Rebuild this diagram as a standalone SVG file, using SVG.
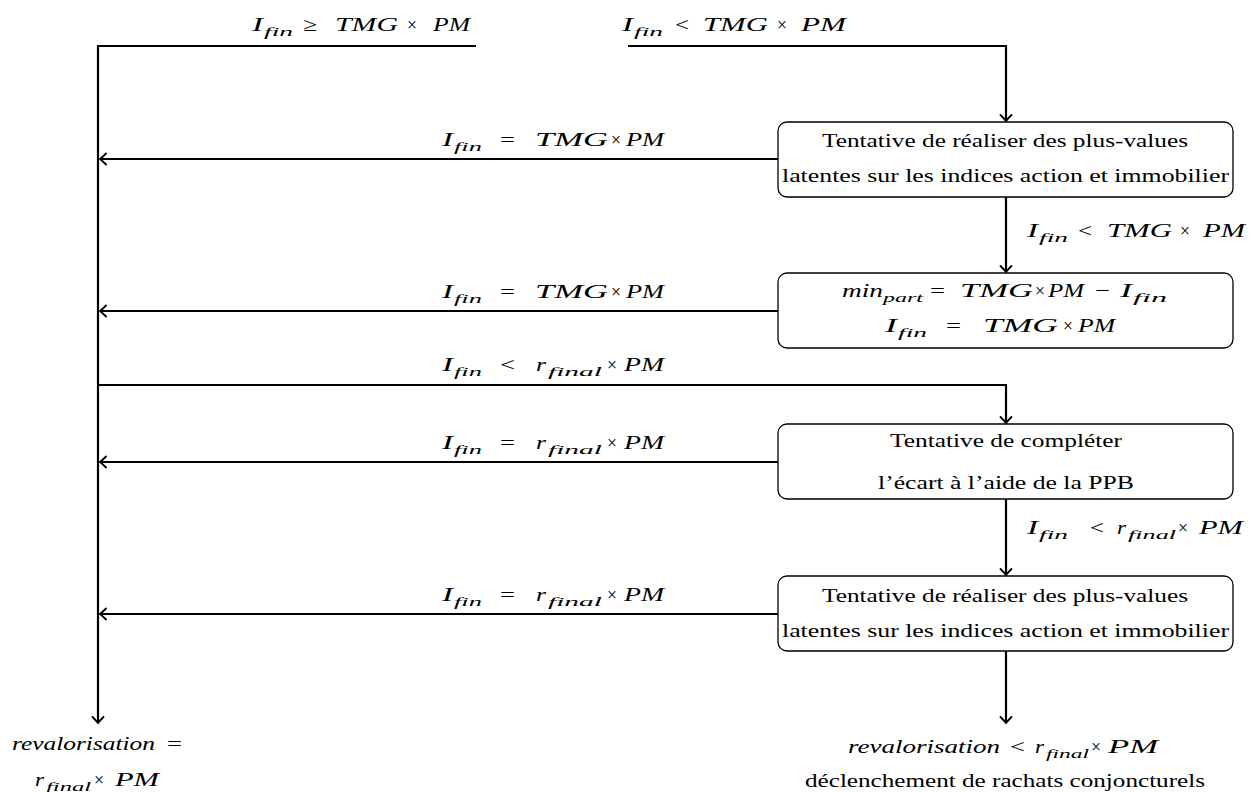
<svg xmlns="http://www.w3.org/2000/svg" width="1251" height="792" viewBox="0 0 1251 792">
  <style>
    text { font-family: "Liberation Serif", "Times New Roman", serif; font-size: 19px; fill: #000; }
    .c { text-anchor: middle; }
    .i { font-style: italic; }
    .s { font-style: italic; font-size: 13px; }
    .box { fill: #fff; stroke: #000; stroke-width: 1.3; }
    .wire { fill: none; stroke: #000; stroke-width: 2.2; }
  </style>
  <defs>
    <marker id="arrow" markerUnits="userSpaceOnUse" markerWidth="14" markerHeight="14" viewBox="-8 -7 10 14" refX="0" refY="0" orient="auto">
      <path d="M -6 -5.5 Q -2 -1.5 0 0 Q -2 1.5 -6 5.5" fill="none" stroke="#000" stroke-width="1.8" stroke-linecap="round"/>
    </marker>
  </defs>

  <rect width="1251" height="792" fill="#fff"/>

  <!-- connectors -->
  <g id="connectors">
    <path class="wire" d="M476,46 H98 V723" marker-end="url(#arrow)"/>
    <path class="wire" d="M628,46 H1006 V121" marker-end="url(#arrow)"/>
    <path class="wire" d="M1006,197 V272" marker-end="url(#arrow)"/>
    <path class="wire" d="M98,385 H1006 V423" marker-end="url(#arrow)"/>
    <path class="wire" d="M1006,499 V575" marker-end="url(#arrow)"/>
    <path class="wire" d="M1006,651 V723" marker-end="url(#arrow)"/>
    <path class="wire" d="M778,159 H100" marker-end="url(#arrow)"/>
    <path class="wire" d="M778,311 H100" marker-end="url(#arrow)"/>
    <path class="wire" d="M778,462 H100" marker-end="url(#arrow)"/>
    <path class="wire" d="M778,614 H100" marker-end="url(#arrow)"/>
  </g>

  <!-- connector labels -->
  <g id="labels">
    <!-- top-left branch -->
    <text y="31"><tspan class="i" x="252" textLength="11" lengthAdjust="spacingAndGlyphs">I</tspan><tspan class="s" x="264" y="36" textLength="29" lengthAdjust="spacingAndGlyphs">fin</tspan><tspan x="303" y="31" textLength="14" lengthAdjust="spacingAndGlyphs">≥</tspan><tspan class="i" x="335" textLength="63" lengthAdjust="spacingAndGlyphs">TMG</tspan><tspan x="407" textLength="10" lengthAdjust="spacingAndGlyphs">×</tspan><tspan class="i" x="433" textLength="37" lengthAdjust="spacingAndGlyphs">PM</tspan></text>
    <!-- top-right branch -->
    <text y="31"><tspan class="i" x="622" textLength="11" lengthAdjust="spacingAndGlyphs">I</tspan><tspan class="s" x="634" y="36" textLength="29" lengthAdjust="spacingAndGlyphs">fin</tspan><tspan x="675" y="31" textLength="14" lengthAdjust="spacingAndGlyphs">&lt;</tspan><tspan class="i" x="703" textLength="65" lengthAdjust="spacingAndGlyphs">TMG</tspan><tspan x="777" textLength="10" lengthAdjust="spacingAndGlyphs">×</tspan><tspan class="i" x="801" textLength="45" lengthAdjust="spacingAndGlyphs">PM</tspan></text>
    <!-- returns to the left spine -->
    <text y="146"><tspan class="i" x="442" textLength="11" lengthAdjust="spacingAndGlyphs">I</tspan><tspan class="s" x="454" y="151" textLength="28" lengthAdjust="spacingAndGlyphs">fin</tspan><tspan x="500" y="146" textLength="15" lengthAdjust="spacingAndGlyphs">=</tspan><tspan class="i" x="535" textLength="73" lengthAdjust="spacingAndGlyphs">TMG</tspan><tspan x="611" textLength="10" lengthAdjust="spacingAndGlyphs">×</tspan><tspan class="i" x="626" textLength="38" lengthAdjust="spacingAndGlyphs">PM</tspan></text>
    <text y="298"><tspan class="i" x="442" textLength="11" lengthAdjust="spacingAndGlyphs">I</tspan><tspan class="s" x="454" y="303" textLength="28" lengthAdjust="spacingAndGlyphs">fin</tspan><tspan x="500" y="298" textLength="15" lengthAdjust="spacingAndGlyphs">=</tspan><tspan class="i" x="535" textLength="73" lengthAdjust="spacingAndGlyphs">TMG</tspan><tspan x="611" textLength="10" lengthAdjust="spacingAndGlyphs">×</tspan><tspan class="i" x="626" textLength="38" lengthAdjust="spacingAndGlyphs">PM</tspan></text>
    <text y="371"><tspan class="i" x="442" textLength="11" lengthAdjust="spacingAndGlyphs">I</tspan><tspan class="s" x="454" y="376" textLength="28" lengthAdjust="spacingAndGlyphs">fin</tspan><tspan x="500" y="371" textLength="15" lengthAdjust="spacingAndGlyphs">&lt;</tspan><tspan class="i" x="536" textLength="10" lengthAdjust="spacingAndGlyphs">r</tspan><tspan class="s" x="548" y="376" textLength="54" lengthAdjust="spacingAndGlyphs">final</tspan><tspan x="607" y="371" textLength="10" lengthAdjust="spacingAndGlyphs">×</tspan><tspan class="i" x="624" textLength="40" lengthAdjust="spacingAndGlyphs">PM</tspan></text>
    <text y="449"><tspan class="i" x="442" textLength="11" lengthAdjust="spacingAndGlyphs">I</tspan><tspan class="s" x="454" y="454" textLength="28" lengthAdjust="spacingAndGlyphs">fin</tspan><tspan x="500" y="449" textLength="15" lengthAdjust="spacingAndGlyphs">=</tspan><tspan class="i" x="536" textLength="10" lengthAdjust="spacingAndGlyphs">r</tspan><tspan class="s" x="548" y="454" textLength="54" lengthAdjust="spacingAndGlyphs">final</tspan><tspan x="607" y="449" textLength="10" lengthAdjust="spacingAndGlyphs">×</tspan><tspan class="i" x="624" textLength="40" lengthAdjust="spacingAndGlyphs">PM</tspan></text>
    <text y="601"><tspan class="i" x="442" textLength="11" lengthAdjust="spacingAndGlyphs">I</tspan><tspan class="s" x="454" y="606" textLength="28" lengthAdjust="spacingAndGlyphs">fin</tspan><tspan x="500" y="601" textLength="15" lengthAdjust="spacingAndGlyphs">=</tspan><tspan class="i" x="536" textLength="10" lengthAdjust="spacingAndGlyphs">r</tspan><tspan class="s" x="548" y="606" textLength="54" lengthAdjust="spacingAndGlyphs">final</tspan><tspan x="607" y="601" textLength="10" lengthAdjust="spacingAndGlyphs">×</tspan><tspan class="i" x="624" textLength="40" lengthAdjust="spacingAndGlyphs">PM</tspan></text>
    <!-- downward steps on the right -->
    <text y="237"><tspan class="i" x="1027" textLength="11" lengthAdjust="spacingAndGlyphs">I</tspan><tspan class="s" x="1039" y="242" textLength="29" lengthAdjust="spacingAndGlyphs">fin</tspan><tspan x="1078" y="237" textLength="14" lengthAdjust="spacingAndGlyphs">&lt;</tspan><tspan class="i" x="1107" textLength="65" lengthAdjust="spacingAndGlyphs">TMG</tspan><tspan x="1180" textLength="10" lengthAdjust="spacingAndGlyphs">×</tspan><tspan class="i" x="1203" textLength="42" lengthAdjust="spacingAndGlyphs">PM</tspan></text>
    <text y="534"><tspan class="i" x="1027" textLength="11" lengthAdjust="spacingAndGlyphs">I</tspan><tspan class="s" x="1039" y="539" textLength="29" lengthAdjust="spacingAndGlyphs">fin</tspan><tspan x="1090" y="534" textLength="14" lengthAdjust="spacingAndGlyphs">&lt;</tspan><tspan class="i" x="1117" textLength="9" lengthAdjust="spacingAndGlyphs">r</tspan><tspan class="s" x="1128" y="539" textLength="48" lengthAdjust="spacingAndGlyphs">final</tspan><tspan x="1178" y="534" textLength="10" lengthAdjust="spacingAndGlyphs">×</tspan><tspan class="i" x="1199" textLength="44" lengthAdjust="spacingAndGlyphs">PM</tspan></text>
  </g>

  <!-- step boxes -->
  <g id="step1">
    <rect class="box" x="778" y="122" width="455" height="75" rx="9"/>
    <text class="c" x="1005" y="147" textLength="366" lengthAdjust="spacingAndGlyphs">Tentative de réaliser des plus-values</text>
    <text class="c" x="1005.5" y="182" textLength="447" lengthAdjust="spacingAndGlyphs">latentes sur les indices action et immobilier</text>
  </g>
  <g id="step2">
    <rect class="box" x="778" y="273" width="455" height="75" rx="9"/>
    <text y="297"><tspan class="i" x="842" textLength="41" lengthAdjust="spacingAndGlyphs">min</tspan><tspan class="s" x="883" y="302" textLength="40" lengthAdjust="spacingAndGlyphs">part</tspan><tspan x="930" y="297" textLength="15" lengthAdjust="spacingAndGlyphs">=</tspan><tspan class="i" x="960" textLength="73" lengthAdjust="spacingAndGlyphs">TMG</tspan><tspan x="1035" textLength="10" lengthAdjust="spacingAndGlyphs">×</tspan><tspan class="i" x="1048" textLength="36" lengthAdjust="spacingAndGlyphs">PM</tspan><tspan x="1095" textLength="15" lengthAdjust="spacingAndGlyphs">−</tspan><tspan class="i" x="1120" textLength="12" lengthAdjust="spacingAndGlyphs">I</tspan><tspan class="s" x="1133" y="302" textLength="34" lengthAdjust="spacingAndGlyphs">fin</tspan></text>
    <text y="332"><tspan class="i" x="885" textLength="12" lengthAdjust="spacingAndGlyphs">I</tspan><tspan class="s" x="898" y="337" textLength="29" lengthAdjust="spacingAndGlyphs">fin</tspan><tspan x="946" y="332" textLength="15" lengthAdjust="spacingAndGlyphs">=</tspan><tspan class="i" x="983" textLength="75" lengthAdjust="spacingAndGlyphs">TMG</tspan><tspan x="1063" textLength="10" lengthAdjust="spacingAndGlyphs">×</tspan><tspan class="i" x="1078" textLength="37" lengthAdjust="spacingAndGlyphs">PM</tspan></text>
  </g>
  <g id="step3">
    <rect class="box" x="778" y="424" width="455" height="75" rx="9"/>
    <text class="c" x="1006" y="447" textLength="232" lengthAdjust="spacingAndGlyphs">Tentative de compléter</text>
    <text class="c" x="1006" y="489" textLength="256" lengthAdjust="spacingAndGlyphs">l’écart à l’aide de la PPB</text>
  </g>
  <g id="step4">
    <rect class="box" x="778" y="576" width="455" height="75" rx="9"/>
    <text class="c" x="1005" y="602" textLength="366" lengthAdjust="spacingAndGlyphs">Tentative de réaliser des plus-values</text>
    <text class="c" x="1005.5" y="637" textLength="447" lengthAdjust="spacingAndGlyphs">latentes sur les indices action et immobilier</text>
  </g>

  <!-- outcomes -->
  <g id="outcome-left">
    <text y="750"><tspan class="i" x="12" textLength="143" lengthAdjust="spacingAndGlyphs">revalorisation</tspan><tspan x="167" textLength="15" lengthAdjust="spacingAndGlyphs">=</tspan></text>
    <text y="786"><tspan class="i" x="35" textLength="9" lengthAdjust="spacingAndGlyphs">r</tspan><tspan class="s" x="46" y="791" textLength="45" lengthAdjust="spacingAndGlyphs">final</tspan><tspan x="94" y="786" textLength="10" lengthAdjust="spacingAndGlyphs">×</tspan><tspan class="i" x="115" textLength="44" lengthAdjust="spacingAndGlyphs">PM</tspan></text>
  </g>
  <g id="outcome-right">
    <text y="753"><tspan class="i" x="848" textLength="152" lengthAdjust="spacingAndGlyphs">revalorisation</tspan><tspan x="1010" textLength="15" lengthAdjust="spacingAndGlyphs">&lt;</tspan><tspan class="i" x="1035" textLength="9" lengthAdjust="spacingAndGlyphs">r</tspan><tspan class="s" x="1046" y="758" textLength="43" lengthAdjust="spacingAndGlyphs">final</tspan><tspan x="1091" y="753" textLength="10" lengthAdjust="spacingAndGlyphs">×</tspan><tspan class="i" x="1108" textLength="50" lengthAdjust="spacingAndGlyphs">PM</tspan></text>
    <text class="c" x="1005" y="787" textLength="400" lengthAdjust="spacingAndGlyphs">déclenchement de rachats conjoncturels</text>
  </g>
</svg>
